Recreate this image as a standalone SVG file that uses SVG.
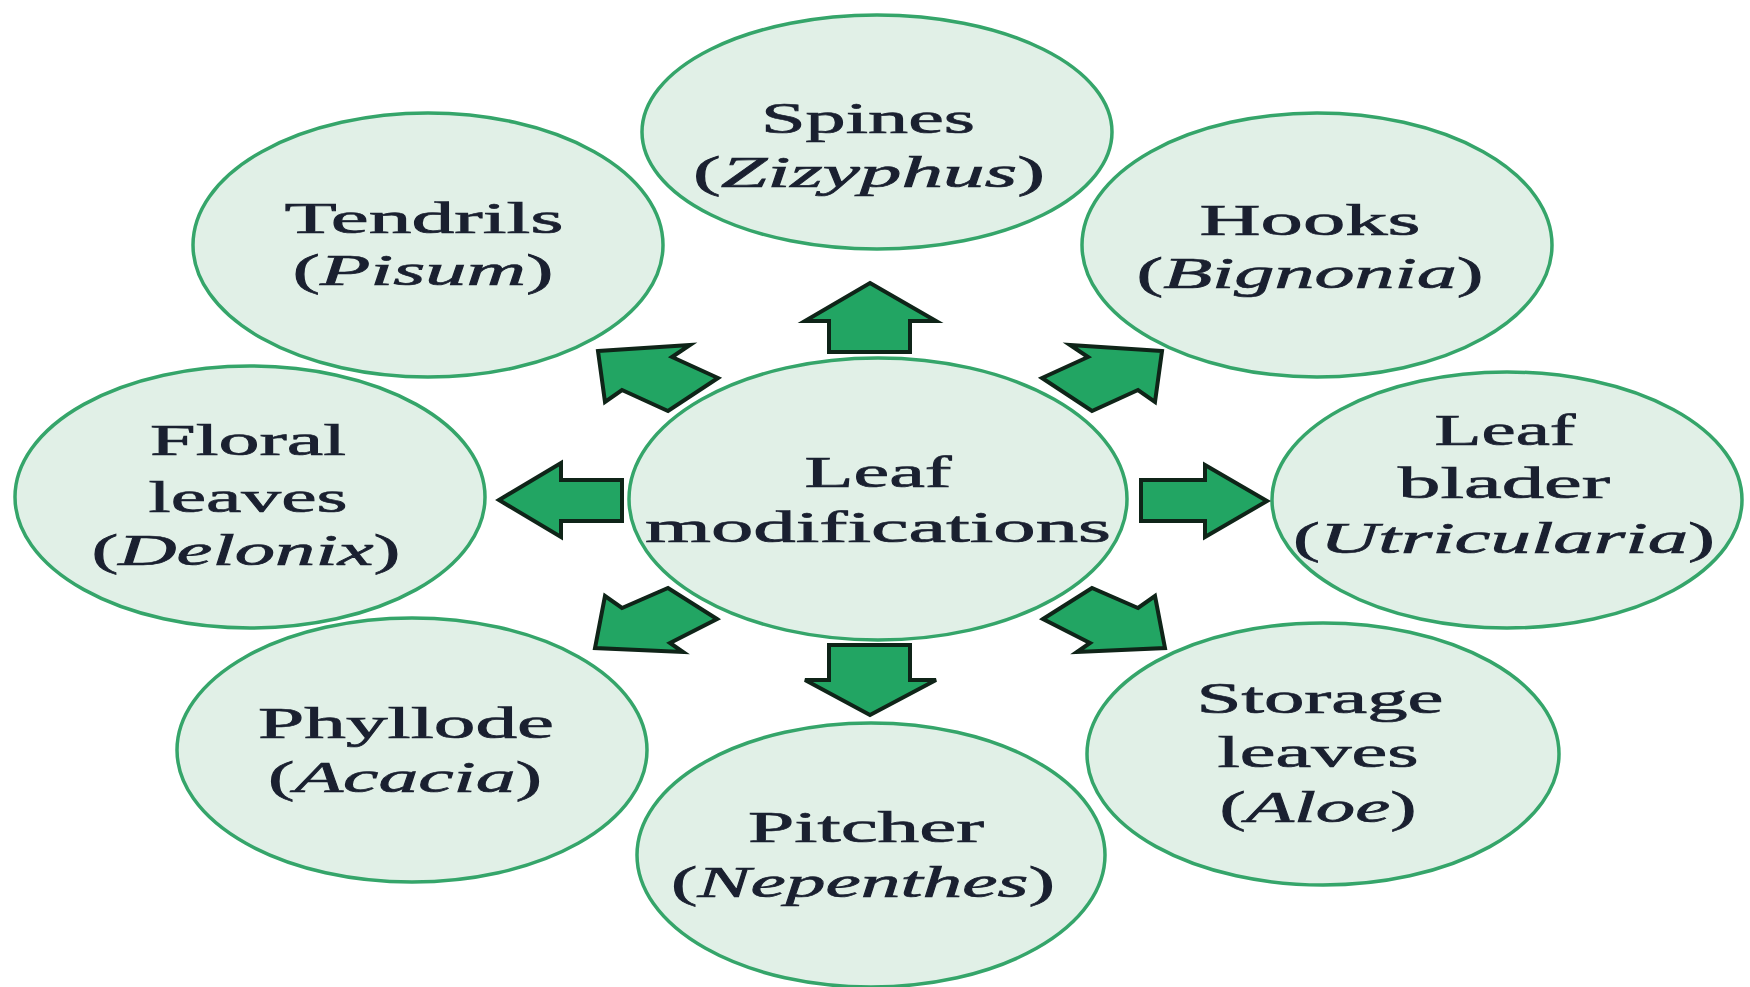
<svg xmlns="http://www.w3.org/2000/svg" width="1750" height="987" viewBox="0 0 1750 987">
<style>
.node{fill:#e1f0e7;stroke:#35a56a;stroke-width:3.5}
.t{font-family:"Liberation Serif","Times New Roman",serif;font-size:44px;fill:#1a2030;text-anchor:middle;stroke:#1a2030;stroke-width:0.7}
.i{font-style:italic}
.arrow{fill:#22a563;stroke:#0f2418;stroke-width:4;stroke-linejoin:miter}
</style>
<rect width="1750" height="987" fill="#ffffff"/>
<g id="node-spines">
<ellipse class="node" cx="877" cy="132" rx="235" ry="117"/>
<text class="t" x="868" y="133" textLength="214" lengthAdjust="spacingAndGlyphs">Spines</text>
<text class="t" x="869" y="187" textLength="352" lengthAdjust="spacingAndGlyphs">(<tspan class="i">Zizyphus</tspan>)</text>
</g>
<g id="node-tendrils">
<ellipse class="node" cx="428" cy="245" rx="235" ry="132"/>
<text class="t" x="424" y="233" textLength="279" lengthAdjust="spacingAndGlyphs">Tendrils</text>
<text class="t" x="423" y="285" textLength="261" lengthAdjust="spacingAndGlyphs">(<tspan class="i">Pisum</tspan>)</text>
</g>
<g id="node-hooks">
<ellipse class="node" cx="1317" cy="245" rx="235" ry="132"/>
<text class="t" x="1310" y="235" textLength="221" lengthAdjust="spacingAndGlyphs">Hooks</text>
<text class="t" x="1310" y="288" textLength="347" lengthAdjust="spacingAndGlyphs">(<tspan class="i">Bignonia</tspan>)</text>
</g>
<g id="node-floral">
<ellipse class="node" cx="250" cy="497" rx="235" ry="131"/>
<text class="t" x="248" y="455" textLength="196" lengthAdjust="spacingAndGlyphs">Floral</text>
<text class="t" x="248" y="512" textLength="199" lengthAdjust="spacingAndGlyphs">leaves</text>
<text class="t" x="246" y="565" textLength="309" lengthAdjust="spacingAndGlyphs">(<tspan class="i">Delonix</tspan>)</text>
</g>
<g id="node-bladder">
<ellipse class="node" cx="1507" cy="500" rx="235" ry="128"/>
<text class="t" x="1505" y="445" textLength="141" lengthAdjust="spacingAndGlyphs">Leaf</text>
<text class="t" x="1504" y="498" textLength="212" lengthAdjust="spacingAndGlyphs">blader</text>
<text class="t" x="1504" y="553" textLength="422" lengthAdjust="spacingAndGlyphs">(<tspan class="i">Utricularia</tspan>)</text>
</g>
<g id="node-phyllode">
<ellipse class="node" cx="412" cy="750" rx="235" ry="132"/>
<text class="t" x="406" y="738" textLength="296" lengthAdjust="spacingAndGlyphs">Phyllode</text>
<text class="t" x="405" y="792" textLength="274" lengthAdjust="spacingAndGlyphs">(<tspan class="i">Acacia</tspan>)</text>
</g>
<g id="node-storage">
<ellipse class="node" cx="1323" cy="754" rx="236" ry="131"/>
<text class="t" x="1320" y="713" textLength="247" lengthAdjust="spacingAndGlyphs">Storage</text>
<text class="t" x="1318" y="767" textLength="201" lengthAdjust="spacingAndGlyphs">leaves</text>
<text class="t" x="1318" y="822" textLength="197" lengthAdjust="spacingAndGlyphs">(<tspan class="i">Aloe</tspan>)</text>
</g>
<g id="node-pitcher">
<ellipse class="node" cx="871" cy="855" rx="234" ry="132"/>
<text class="t" x="866" y="842" textLength="236" lengthAdjust="spacingAndGlyphs">Pitcher</text>
<text class="t" x="863" y="897" textLength="384" lengthAdjust="spacingAndGlyphs">(<tspan class="i">Nepenthes</tspan>)</text>
</g>
<g id="node-center">
<ellipse class="node" cx="878" cy="499" rx="249" ry="141"/>
<text class="t" x="878" y="487" textLength="147" lengthAdjust="spacingAndGlyphs">Leaf</text>
<text class="t" x="878" y="542" textLength="466" lengthAdjust="spacingAndGlyphs">modifications</text>
</g>
<g id="connectors">
<polygon class="arrow" points="870,283 936,321 910,321 910,352 829,352 829,321 805,321"/>
<polygon class="arrow" points="829,645 910,645 910,680 936,680 870,715 805,680 829,680"/>
<polygon class="arrow" points="499,500 561,463 561,480 622,480 622,521 561,521 561,537"/>
<polygon class="arrow" points="1141,480 1205,480 1205,465 1267,501 1205,537 1205,521 1141,521"/>
<polygon class="arrow" points="598,351 690,345 672,357 718,378 668,411 622,390 605,402"/>
<polygon class="arrow" points="1162,351 1070,345 1088,357 1042,378 1092,411 1138,390 1155,402"/>
<polygon class="arrow" points="717,619 668,588 622,608 605,596 595,648 683,652 670,643"/>
<polygon class="arrow" points="1043,619 1092,588 1138,608 1155,596 1165,648 1077,652 1090,643"/>
</g>
</svg>
